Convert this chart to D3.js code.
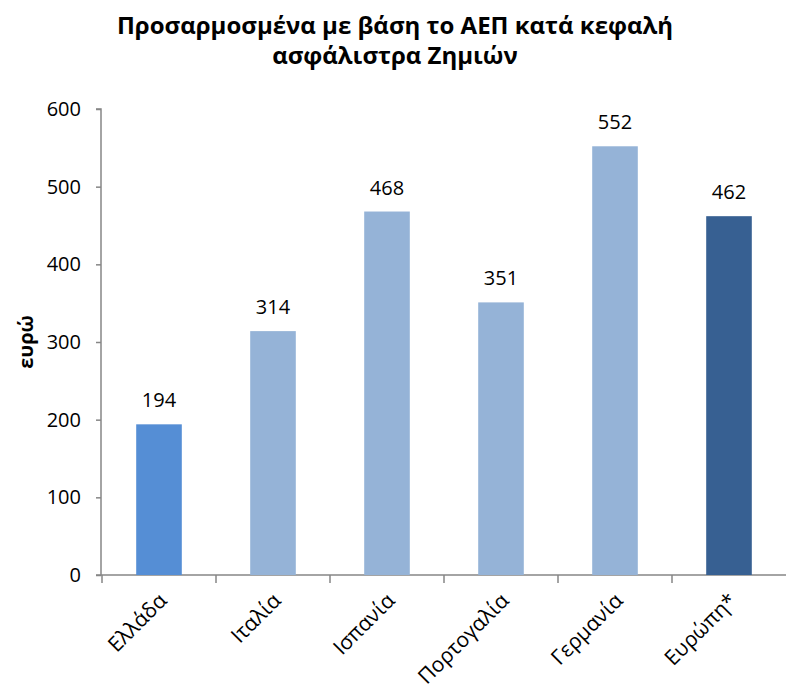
<!DOCTYPE html>
<html>
<head>
<meta charset="utf-8">
<script src="https://cdn.jsdelivr.net/npm/d3@7"></script>
<style>
  body { margin: 0; background: #fff; }
  text { font-family: "Open Sans", "Noto Sans", sans-serif; }
</style>
</head>
<body>
<script>
const width = 786;
const height = 687;

const countries = ['Ελλάδα', 'Ιταλία', 'Ισπανία', 'Πορτογαλία', 'Γερμανία', 'Ευρώπη*'];
const premiums = [194, 314, 468, 351, 552, 462];
const barColors = ['#558ed5', '#95b3d7', '#95b3d7', '#95b3d7', '#95b3d7', '#376092'];
const yTicks = [0, 100, 200, 300, 400, 500, 600];
const titleLines = ['Προσαρμοσμένα με βάση το ΑΕΠ κατά κεφαλή', 'ασφάλιστρα Ζημιών'];

const svg = d3.select('body')
    .append('svg')
    .attr('width', width)
    .attr('height', height);

const xScale = d3.scaleBand().domain(countries).range([102, 786]).paddingInner(0.6).paddingOuter(0.3);
const yScale = d3.scaleLinear().domain([0, 600]).range([575, 109]);

// title
svg.append('text')
    .attr('x', 395)
    .attr('y', 34)
    .attr('text-anchor', 'middle')
    .style('font-size', '24px')
    .style('font-weight', 'bold')
    .selectAll('tspan')
    .data(titleLines)
    .enter()
    .append('tspan')
    .attr('x', 395)
    .attr('dy', (d, i) => i === 0 ? 0 : 30)
    .text(d => d);

// y axis
const yAxis = d3.axisLeft(yScale).tickValues(yTicks).tickSize(5).tickPadding(15);
const gy = svg.append('g')
    .attr('transform', 'translate(101, 0)')
    .call(yAxis);
gy.selectAll('path, line').attr('stroke', '#868686').attr('stroke-width', 1.5);
gy.select('.domain').attr('d', `M-5,${yScale(600)}H0V${yScale(0)}`);
gy.selectAll('text').style('font-size', '20px').attr('fill', '#000');

// x axis
const xAxis = d3.axisBottom(xScale).tickSize(0).tickFormat('');
const gx = svg.append('g')
    .attr('transform', `translate(0, ${yScale(0)})`)
    .call(xAxis);
gx.select('.domain').attr('stroke', '#868686').attr('stroke-width', 1.5)
    .attr('d', `M96,0H786`);
const step = xScale.step();
const sepX = countries.map(d => xScale(d) - (step - xScale.bandwidth()) / 2);
gx.selectAll('.sep')
    .data(sepX)
    .enter()
    .append('line')
    .attr('class', 'sep')
    .attr('x1', d => d)
    .attr('x2', d => d)
    .attr('y1', 0)
    .attr('y2', 8)
    .attr('stroke', '#868686')
    .attr('stroke-width', 1.5);

// category labels
svg.selectAll('.cat')
    .data(countries)
    .enter()
    .append('text')
    .attr('class', 'cat')
    .attr('text-anchor', 'end')
    .attr('transform', d => `translate(${xScale(d) + xScale.bandwidth() / 2 + 9}, 602) rotate(-45)`)
    .style('font-size', '21px')
    .text(d => d);

// bars
svg.selectAll('.bar')
    .data(premiums)
    .enter()
    .append('rect')
    .attr('class', 'bar')
    .attr('x', (d, i) => xScale(countries[i]))
    .attr('y', d => yScale(d))
    .attr('width', xScale.bandwidth())
    .attr('height', d => yScale(0) - yScale(d))
    .attr('fill', (d, i) => barColors[i]);

// value labels
svg.selectAll('.val')
    .data(premiums)
    .enter()
    .append('text')
    .attr('class', 'val')
    .attr('x', (d, i) => xScale(countries[i]) + xScale.bandwidth() / 2)
    .attr('y', d => yScale(d) - 17)
    .attr('text-anchor', 'middle')
    .style('font-size', '20px')
    .text(d => d);

// y label
svg.append('text')
    .attr('transform', 'translate(33, 342) rotate(-90)')
    .attr('text-anchor', 'middle')
    .style('font-size', '20px')
    .style('font-weight', 'bold')
    .text('ευρώ');
</script>
</body>
</html>
